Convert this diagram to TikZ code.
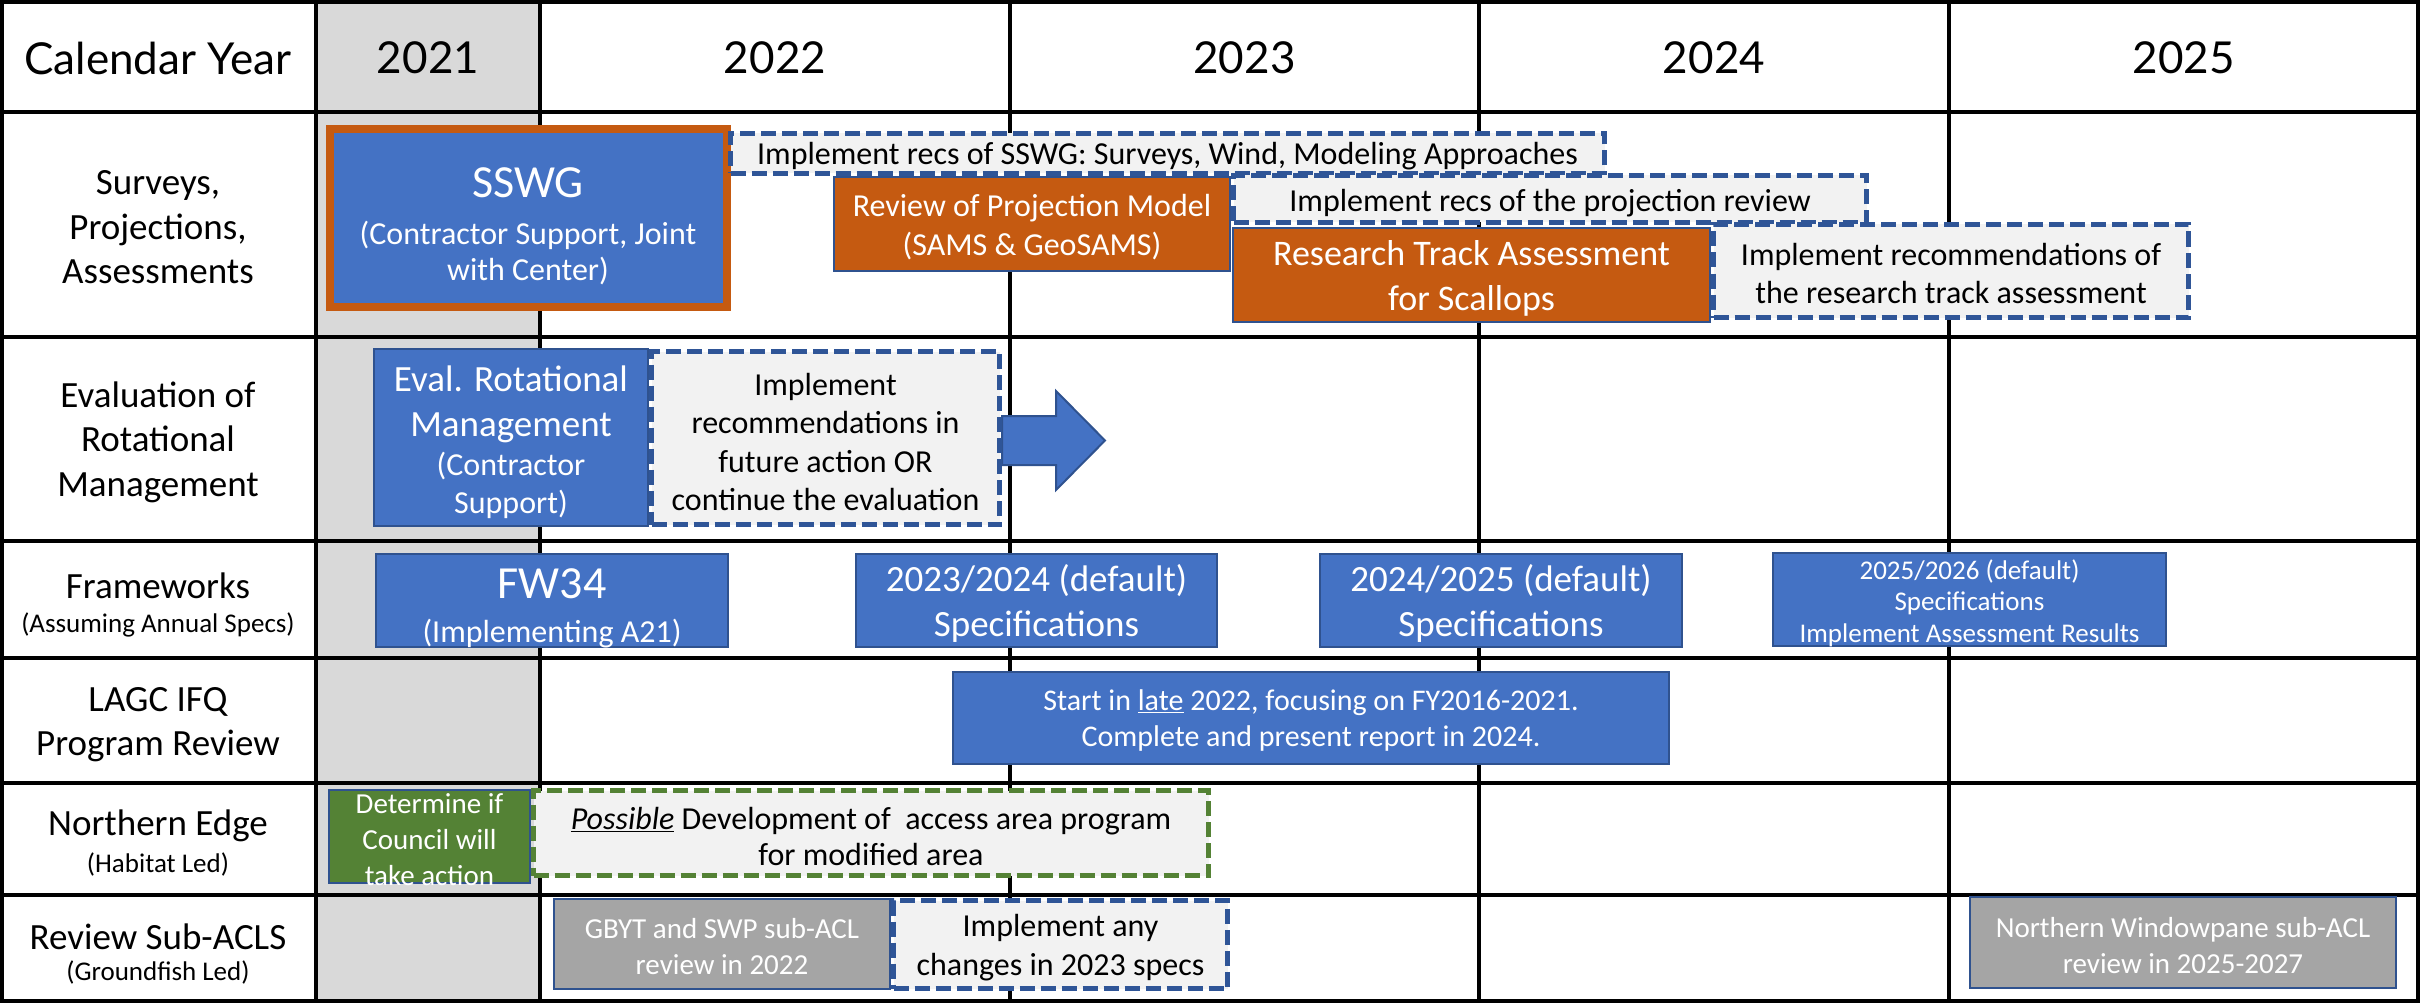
\documentclass[tikz,border=0pt]{standalone}
\usepackage{fontspec}
\setmainfont{Carlito}
\newfontfamily\hdrfont{Lato}
\usetikzlibrary{fit}
\definecolor{boxblue}{HTML}{4472C4}
\definecolor{edgeblue}{HTML}{2F528F}
\definecolor{dashblue}{HTML}{2F5597}
\definecolor{rust}{HTML}{C55A11}
\definecolor{leaf}{HTML}{548235}
\definecolor{stone}{HTML}{A5A5A5}
\definecolor{pale}{HTML}{F2F2F2}
\definecolor{colgray}{HTML}{D9D9D9}
\newcommand{\fsz}[2]{\fontsize{#1}{#2}\selectfont}
\begin{document}
\begin{tikzpicture}[x=1pt,y=-1pt,
  gridline/.style={line width=3.2pt,black},
  plainrect/.style={rectangle,inner sep=0pt,outer sep=0pt},
  solidbox/.style={plainrect,draw=edgeblue,line width=2pt},
  bluebox/.style={solidbox,fill=boxblue},
  rustbox/.style={solidbox,fill=rust},
  greenbox/.style={solidbox,fill=leaf},
  greybox/.style={solidbox,fill=stone},
  dashbox/.style={plainrect,draw=dashblue,fill=pale,line width=5pt,dash pattern=on 15pt off 6pt},
  greendash/.style={dashbox,draw=leaf},
  wtext/.style={text=white,align=center,inner sep=0pt},
  ktext/.style={text=black,align=center,inner sep=0pt},
  rowlabel/.style={ktext,font=\fsz{37}{44.5}},
  yearlabel/.style={ktext,font=\hdrfont\fsz{44}{50}},
]
\useasboundingbox (0,0) rectangle (2423,1003);
\fill[colgray] (316,2) rectangle (540,1001);
% grid
\draw[gridline] (2,2) rectangle (2418,1001);
\foreach \yy in {112,337,541,658,783,895} \draw[gridline] (2,\yy) -- (2418,\yy);
\foreach \xx in {316,540,1010,1479,1949} \draw[gridline] (\xx,2) -- (\xx,1001);

% header
\node[yearlabel] (hdr) at (158,58) {Calendar Year};
\node[yearlabel] (y2021) at (428,58) {2021};
\node[yearlabel] (y2022) at (775,58) {2022};
\node[yearlabel] (y2023) at (1244.5,58) {2023};
\node[yearlabel] (y2024) at (1714,58) {2024};
\node[yearlabel] (y2025) at (2183.5,58) {2025};

% row labels
\node[rowlabel] (r1) at (158,227.5) {Surveys,\\Projections,\\Assessments};
\node[rowlabel] (r2) at (158,442) {Evaluation of\\Rotational\\Management};
\node[rowlabel,font=\fsz{37}{33.8}] (r3) at (158,605) {Frameworks\\\fsz{27}{33}(Assuming Annual Specs)};
\node[rowlabel] (r4) at (158,724.5) {LAGC IFQ\\Program Review};
\node[rowlabel,font=\fsz{37}{36.8}] (r5) at (158,843) {Northern Edge\\\fsz{27}{33}(Habitat Led)};
\node[rowlabel,font=\fsz{37}{31.8}] (r6) at (158,954) {Review Sub-ACLS\\\fsz{27}{33}(Groundfish Led)};

% row 1
\node[plainrect,draw=rust,fill=boxblue,line width=8pt,fit={(330,129) (727,307)}] (sswg) {};
\node[wtext,font=\fsz{32}{36}] (sswg-t) at (528,226) {\fsz{46}{46}SSWG\\[11pt](Contractor Support, Joint\\with Center)};
\node[dashbox,fit={(730.5,133.5) (1604.5,173.5)}] (sswgrec) {};
\node[ktext,font=\fsz{32}{38},yshift=-3pt] (sswgrec-t) at (sswgrec.center) {Implement recs of SSWG: Surveys, Wind, Modeling Approaches};
\node[rustbox,fit={(834,177) (1230,271)}] (review) {};
\node[wtext,font=\fsz{32}{38.5},yshift=-3pt] (review-t) at (review.center) {Review of Projection Model\\(SAMS \& GeoSAMS)};
\node[dashbox,fit={(1233.5,175.5) (1866.5,222.5)}] (projrec) {};
\node[ktext,font=\fsz{32}{38},yshift=-4pt] (projrec-t) at (projrec.center) {Implement recs of the projection review};
\node[rustbox,fit={(1233,228) (1710,322)}] (rta) {};
\node[wtext,font=\fsz{36}{45},yshift=-3.5pt] (rta-t) at (rta.center) {Research Track Assessment\\for Scallops};
\node[dashbox,fit={(1713.5,224.5) (2188.5,317.5)}] (rtarec) {};
\node[ktext,font=\fsz{32}{38},yshift=-3pt] (rtarec-t) at (rtarec.center) {Implement recommendations of\\the research track assessment};

% row 2
\node[bluebox,fit={(374,349) (648,526)}] (evalrm) {};
\node[wtext,font=\fsz{32}{38},yshift=-4.8pt] (evalrm-t) at (evalrm.center) {\fsz{37}{38}Eval. Rotational\\[7pt]\fsz{37}{38}Management\\[1.7pt](Contractor\\Support)};
\filldraw[fill=boxblue,draw=edgeblue,line width=2pt] (1002,416) -- (1056,416) -- (1056,391) -- (1105,440.5) -- (1056,490) -- (1056,465) -- (1002,465) -- cycle;
\node[dashbox,fit={(651.5,351.5) (999.5,524.5)}] (evalrec) {};
\node[ktext,font=\fsz{32}{38.6},yshift=-4pt] (evalrec-t) at (evalrec.center) {Implement\\recommendations in\\future action OR\\continue the evaluation};

% row 3
\node[bluebox,fit={(376,554) (728,647)}] (fw34) {};
\node[wtext,font=\fsz{32}{38},yshift=-8pt] (fw34-t) at (fw34.center) {\fsz{46}{46}FW34\\[6pt](Implementing A21)};
\node[bluebox,fit={(856,554) (1217,647)}] (spec2324) {};
\node[wtext,font=\fsz{37}{45},yshift=-3pt] (spec2324-t) at (spec2324.center) {2023/2024 (default)\\Specifications};
\node[bluebox,fit={(1320,554) (1682,647)}] (spec2425) {};
\node[wtext,font=\fsz{37}{45},yshift=-3pt] (spec2425-t) at (spec2425.center) {2024/2025 (default)\\Specifications};
\node[bluebox,fit={(1773,553) (2166,646)}] (spec2526) {};
\node[wtext,font=\fsz{27}{31.5},yshift=-3.7pt] (spec2526-t) at (spec2526.center) {2025/2026 (default)\\Specifications\\Implement Assessment Results};

% row 4
\node[bluebox,fit={(953,672) (1669,764)}] (lagc) {};
\node[wtext,font=\fsz{30}{36},yshift=-2.6pt] (lagc-t) at (lagc.center) {Start in \underline{late} 2022, focusing on FY2016-2021.\\Complete and present report in 2024.};

% row 5
\node[greenbox,fit={(329,790) (530,883)}] (ne) {};
\node[wtext,font=\fsz{29}{36},yshift=-3.5pt] (ne-t) at (ne.center) {Determine if\\Council will\\take action};
\node[greendash,fit={(533.5,790.5) (1208.5,875.5)}] (nerec) {};
\node[ktext,font=\fsz{32}{36},yshift=-4pt] (nerec-t) at (nerec.center) {\underline{\textit{Possible}} Development of\ \ access area program\\for modified area};

% row 6
\node[greybox,fit={(554,899) (890,989)}] (gbyt) {};
\node[wtext,font=\fsz{29}{36},yshift=-3pt] (gbyt-t) at (gbyt.center) {GBYT and SWP sub-ACL\\review in 2022};
\node[dashbox,fit={(893.5,900.5) (1227.5,988.5)}] (gbytrec) {};
\node[ktext,font=\fsz{32}{39},yshift=-3.5pt] (gbytrec-t) at (gbytrec.center) {Implement any\\changes in 2023 specs};
\node[greybox,fit={(1970,897) (2396,988)}] (nwp) {};
\node[wtext,font=\fsz{29}{36},yshift=-3pt] (nwp-t) at (nwp.center) {Northern Windowpane sub-ACL\\review in 2025-2027};
\end{tikzpicture}
\end{document}
